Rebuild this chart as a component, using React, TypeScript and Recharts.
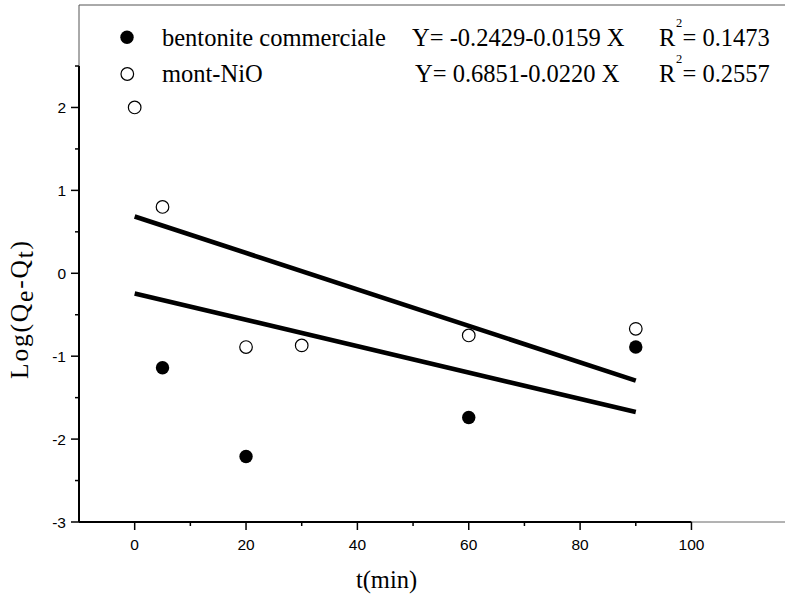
import React from 'react';
import { ComposedChart, Line, ReferenceLine, Scatter, XAxis, YAxis } from 'recharts';

// points
const bentonite = [
  { x: 5, y: -1.14 },
  { x: 20, y: -2.21 },
  { x: 60, y: -1.74 },
  { x: 90, y: -0.89 },
];
const montNiO = [
  { x: 0, y: 2.0 },
  { x: 5, y: 0.8 },
  { x: 20, y: -0.89 },
  { x: 30, y: -0.87 },
  { x: 60, y: -0.75 },
  { x: 90, y: -0.67 },
];
// fitted lines, ends at t=0 and t=90
const fitBentonite = [
  { x: 0, y: -0.2429 },
  { x: 90, y: -1.6739 },
];
const fitNiO = [
  { x: 0, y: 0.6851 },
  { x: 90, y: -1.2949 },
];

const xTicks = [0, 10, 20, 30, 40, 50, 60, 70, 80, 90, 100];
const yTicks = [-3, -2.5, -2, -1.5, -1, -0.5, 0, 0.5, 1, 1.5, 2, 2.5];
const X_MIN = -10;
const X_MAX = 116.8;
const Y_MIN = -3;
const Y_MAX = 3.236;

const serif = 'Liberation Serif, Times New Roman, serif';
const sans = 'Liberation Sans, Arial, sans-serif';

const XTick = (p: any) => {
  const v = p.payload.value;
  const major = v % 20 === 0;
  return (
    <g>
      <line x1={p.x} y1={p.y} x2={p.x} y2={p.y + (major ? 8 : 4)} stroke="#000" strokeWidth={1.5} />
      {major && (
        <text x={p.x} y={p.y + 28} textAnchor="middle" fontFamily={sans} fontSize={15.5} fill="#000">
          {v}
        </text>
      )}
    </g>
  );
};

const YTick = (p: any) => {
  const v = p.payload.value;
  const major = Number.isInteger(v);
  return (
    <g>
      <line x1={p.x - (major ? 8 : 4)} y1={p.y} x2={p.x} y2={p.y} stroke="#000" strokeWidth={1.5} />
      {major && (
        <text x={p.x - 13} y={p.y + 5.5} textAnchor="end" fontFamily={sans} fontSize={15.5} fill="#000">
          {v}
        </text>
      )}
    </g>
  );
};

const Filled = (p: any) => <circle cx={p.cx} cy={p.cy} r={6.7} fill="#000" />;
const Open = (p: any) => <circle cx={p.cx} cy={p.cy} r={6.3} fill="#fff" stroke="#000" strokeWidth={1.2} />;

export default function App() {
  return (
    <div style={{ position: 'absolute', left: 0, top: 0, width: 785, height: 599, background: '#fff' }}>
      <ComposedChart width={785} height={599} margin={{ top: 5, right: 0, left: 0, bottom: 0 }}>
        <XAxis
          dataKey="x"
          type="number"
          domain={[X_MIN, X_MAX]}
          ticks={xTicks}
          interval={0}
          height={77}
          axisLine={false}
          tickLine={false}
          tickSize={0}
          tickMargin={0}
          tick={XTick}
        />
        <YAxis
          type="number"
          domain={[Y_MIN, Y_MAX]}
          ticks={yTicks}
          interval={0}
          width={79}
          axisLine={false}
          tickLine={false}
          tickSize={0}
          tickMargin={0}
          tick={YTick}
        />
        <ReferenceLine segment={[{ x: X_MIN, y: Y_MAX }, { x: X_MAX, y: Y_MAX }]} stroke="#555" strokeWidth={1} ifOverflow="visible" />
        <ReferenceLine segment={[{ x: X_MIN, y: 2.5 }, { x: X_MIN, y: Y_MAX }]} stroke="#555" strokeWidth={1} ifOverflow="visible" />
        <ReferenceLine segment={[{ x: 100, y: Y_MIN }, { x: X_MAX, y: Y_MIN }]} stroke="#666" strokeWidth={1} ifOverflow="visible" />
        <ReferenceLine segment={[{ x: X_MIN, y: Y_MIN }, { x: X_MIN, y: 2.5 }]} stroke="#000" strokeWidth={2} ifOverflow="visible" />
        <ReferenceLine segment={[{ x: X_MIN, y: Y_MIN }, { x: 100, y: Y_MIN }]} stroke="#000" strokeWidth={2} ifOverflow="visible" />
        <Line data={fitNiO} dataKey="y" type="linear" stroke="#000" strokeWidth={4.6} dot={false} activeDot={false} isAnimationActive={false} />
        <Line data={fitBentonite} dataKey="y" type="linear" stroke="#000" strokeWidth={4.6} dot={false} activeDot={false} isAnimationActive={false} />
        <Scatter data={montNiO} dataKey="y" shape={Open} isAnimationActive={false} />
        <Scatter data={bentonite} dataKey="y" shape={Filled} isAnimationActive={false} />
      </ComposedChart>
      <svg width={785} height={599} style={{ position: 'absolute', left: 0, top: 0, pointerEvents: 'none' }}>
        <g fontFamily={serif} fontSize={24.5} fill="#000">
          <circle cx={127} cy={37.3} r={6.7} fill="#000" />
          <text x={162} y={45.5}>bentonite commerciale</text>
          <text x={412} y={45.5}>Y= -0.2429-0.0159 X</text>
          <text x={659} y={45.5}>R</text>
          <text x={676} y={27} fontSize={12.5}>2</text>
          <text x={682.5} y={45.5}>= 0.1473</text>

          <circle cx={127.3} cy={74} r={6.3} fill="#fff" stroke="#000" strokeWidth={1.2} />
          <text x={162} y={81.5}>mont-NiO</text>
          <text x={415} y={81.5}>Y= 0.6851-0.0220 X</text>
          <text x={659} y={81.5}>R</text>
          <text x={676} y={63} fontSize={12.5}>2</text>
          <text x={682.5} y={81.5}>= 0.2557</text>

          <text x={386.5} y={588} textAnchor="middle">t(min)</text>
          <text x={28} y={309} textAnchor="middle" fontSize={25.5} letterSpacing={1.8} transform="rotate(-90, 28, 309)">
            Log(Q<tspan dy={5}>e</tspan>
            <tspan dy={-5}>-Q</tspan>
            <tspan dy={5}>t</tspan>
            <tspan dy={-5}>)</tspan>
          </text>
        </g>
      </svg>
    </div>
  );
}
